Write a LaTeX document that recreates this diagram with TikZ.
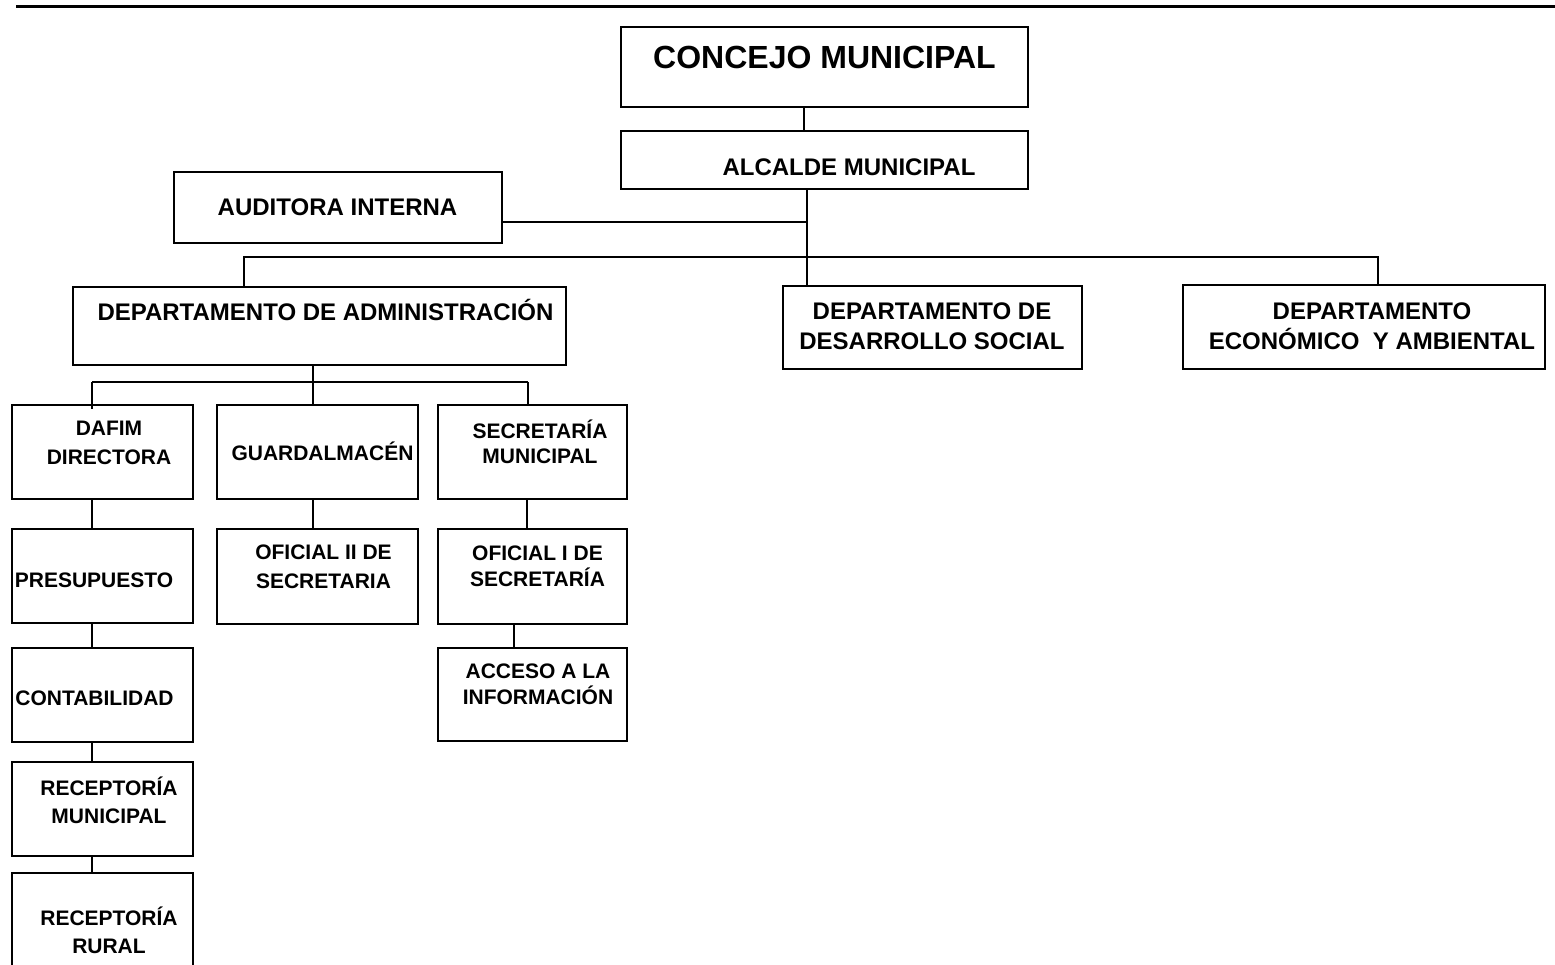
\documentclass[tikz,border=0pt]{standalone}
\usepackage{fontspec}
\setmainfont{Liberation Sans}
\begin{document}
\begin{tikzpicture}[x=1pt,y=-1pt,
  box/.style={draw, line width=2pt, rectangle, inner sep=0pt},
  conn/.style={line width=2pt},
  lbl/.style={font=\bfseries\fontsize{21}{28}\selectfont, align=center, inner sep=0pt},
  biglbl/.style={font=\bfseries\fontsize{24}{30}\selectfont, align=center, inner sep=0pt}]
\useasboundingbox (0,0) rectangle (1555,965);
\clip (0,0) rectangle (1555,965);
% top rule
\coordinate (ruleL) at (16,7);
\coordinate (ruleR) at (1560,7);
\draw[line width=3pt] (ruleL) -- (ruleR);
% boxes
\node[box, minimum width=407pt, minimum height=80pt] (concejo) at (824.5,67) {};
\node[box, minimum width=407pt, minimum height=58pt] (alcalde) at (824.5,160) {};
\node[box, minimum width=328pt, minimum height=71pt] (auditora) at (338,207.5) {};
\node[box, minimum width=493pt, minimum height=78pt] (admin) at (319.5,326) {};
\node[box, minimum width=299pt, minimum height=83pt] (desarrollo) at (932.5,327.5) {};
\node[box, minimum width=362pt, minimum height=84pt] (econ) at (1364,327) {};
\node[box, minimum width=181pt, minimum height=94pt] (dafim) at (102.5,452) {};
\node[box, minimum width=201pt, minimum height=94pt] (guard) at (317.5,452) {};
\node[box, minimum width=189pt, minimum height=94pt] (secm) at (532.5,452) {};
\node[box, minimum width=181pt, minimum height=94pt] (presup) at (102.5,576) {};
\node[box, minimum width=201pt, minimum height=95pt] (ofii) at (317.5,576.5) {};
\node[box, minimum width=189pt, minimum height=95pt] (ofi) at (532.5,576.5) {};
\node[box, minimum width=181pt, minimum height=94pt] (contab) at (102.5,695) {};
\node[box, minimum width=189pt, minimum height=93pt] (acceso) at (532.5,694.5) {};
\node[box, minimum width=181pt, minimum height=94pt] (recmun) at (102.5,809) {};
\node[box, minimum width=181pt, minimum height=117pt] (recrur) at (102.5,931.5) {};
% texts
\node[lbl, font=\bfseries\fontsize{32}{38}\selectfont] (concejo-t) at (824.5,57) {CONCEJO MUNICIPAL};
\node[biglbl] (alcalde-t) at (849,167) {ALCALDE MUNICIPAL};
\node[biglbl] (auditora-t) at (337.5,207) {AUDITORA INTERNA};
\node[biglbl] (admin-t) at (325.5,310) {DEPARTAMENTO DE ADMINISTRACIÓN};
\node[biglbl] (desarrollo-t) at (932,326) {DEPARTAMENTO DE\\DESARROLLO SOCIAL};
\node[biglbl] (econ-t) at (1372,326) {DEPARTAMENTO\\ECONÓMICO\ \ Y AMBIENTAL};
\node[lbl, font=\bfseries\fontsize{21}{29}\selectfont] (dafim-t) at (109,442.5) {DAFIM\\DIRECTORA};
\node[lbl] (guard-t) at (322.5,451) {GUARDALMACÉN};
\node[lbl, font=\bfseries\fontsize{21}{25}\selectfont] (secm-t) at (540,442) {SECRETARÍA\\MUNICIPAL};
\node[lbl] (presup-t) at (94,580) {PRESUPUESTO};
\node[lbl, font=\bfseries\fontsize{21}{29}\selectfont] (ofii-t) at (323.5,566.5) {OFICIAL II DE\\SECRETARIA};
\node[lbl, font=\bfseries\fontsize{21}{26}\selectfont] (ofi-t) at (537.5,566) {OFICIAL I DE\\SECRETARÍA};
\node[lbl] (contab-t) at (94.5,698) {CONTABILIDAD};
\node[lbl, font=\bfseries\fontsize{21}{26}\selectfont] (acceso-t) at (538,684) {ACCESO A LA\\INFORMACIÓN};
\node[lbl] (recmun-t) at (109,800.5) {RECEPTORÍA\\MUNICIPAL};
\node[lbl] (recrur-t) at (109,930.5) {RECEPTORÍA\\RURAL};
% connectors
\coordinate (busA) at (807,257);
\coordinate (audj) at (807,222);
\coordinate (busL) at (244,257);
\coordinate (busR) at (1378,257);
\draw[conn] (804,0 |- concejo.south) -- (804,0 |- alcalde.north);
\draw[conn] (807,0 |- alcalde.south) -- (busA);
\draw[conn] (auditora.east |- audj) -- (audj);
\draw[conn] (busL |- admin.north) -- (busL) -- (busR) -- (busR |- econ.north);
\draw[conn] (busA) -- (busA |- desarrollo.north);
\coordinate (busB) at (313,382);
\coordinate (busBL) at (92,382);
\coordinate (busBR) at (528,382);
\draw[conn] (busB |- admin.south) -- (busB);
\draw[conn] (busBL) -- (busBR);
\draw[conn] (busBL) -- ([yshift=-5pt]busBL |- dafim.north);
\draw[conn] (busB) -- (busB |- guard.north);
\draw[conn] (busBR) -- (busBR |- secm.north);
\draw[conn] (busBL |- dafim.south) -- (busBL |- presup.north);
\draw[conn] (busBL |- presup.south) -- (busBL |- contab.north);
\draw[conn] (busBL |- contab.south) -- (busBL |- recmun.north);
\draw[conn] (busBL |- recmun.south) -- (busBL |- recrur.north);
\draw[conn] (busB |- guard.south) -- (busB |- ofii.north);
\draw[conn] (527,0 |- secm.south) -- (527,0 |- ofi.north);
\draw[conn] (514,0 |- ofi.south) -- (514,0 |- acceso.north);
\end{tikzpicture}
\end{document}
